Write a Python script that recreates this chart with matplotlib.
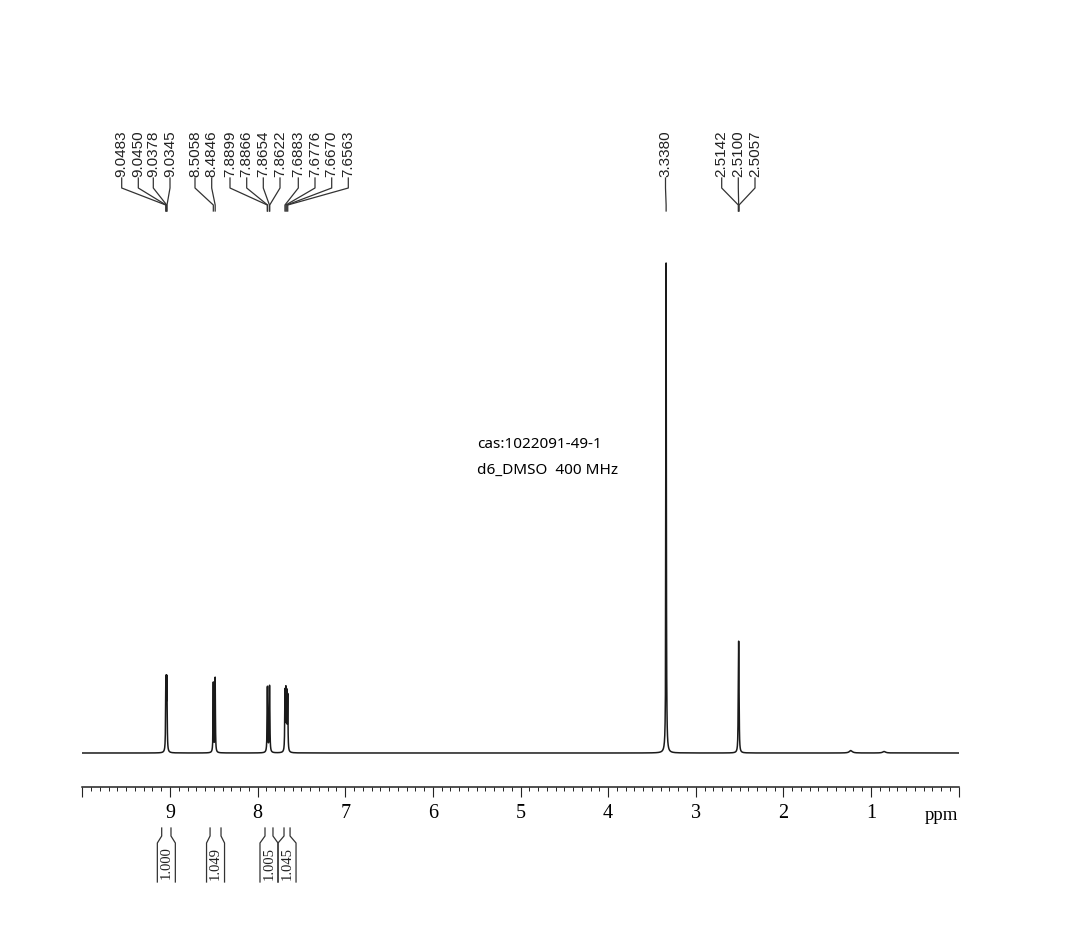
import numpy as np
import matplotlib
matplotlib.use("Agg")
import matplotlib.pyplot as plt
from matplotlib.ticker import MultipleLocator, FixedLocator
from matplotlib.transforms import blended_transform_factory

# peak list (ppm, relative height, half width)
peak_ppm = [9.0483, 9.0450, 9.0378, 9.0345,
            8.5058, 8.4846,
            7.8899, 7.8866, 7.8654, 7.8622,
            7.6883, 7.6776, 7.6670, 7.6563,
            3.3380,
            2.5142, 2.5100, 2.5057,
            1.23, 0.85]
peak_height = [0.093, 0.093, 0.093, 0.093,
               0.142, 0.152,
               0.087, 0.087, 0.087, 0.087,
               0.120, 0.118, 0.112, 0.110,
               1.000,
               0.080, 0.175, 0.080,
               0.005, 0.003]
peak_hw = [0.003] * 18 + [0.02, 0.02]

# labels shown at the top
label_groups = [
    (["9.0483", "9.0450", "9.0378", "9.0345"], [9.0483, 9.0450, 9.0378, 9.0345]),
    (["8.5058", "8.4846"], [8.5058, 8.4846]),
    (["7.8899", "7.8866", "7.8654", "7.8622"], [7.8899, 7.8866, 7.8654, 7.8622]),
    (["7.6883", "7.6776", "7.6670", "7.6563"], [7.6883, 7.6776, 7.6670, 7.6563]),
    (["3.3380"], [3.3380]),
    (["2.5142", "2.5100", "2.5057"], [2.5142, 2.5100, 2.5057]),
]
label_px = [[121.7, 138.3, 153.3, 170.0],
            [195.0, 211.7],
            [230.0, 246.7, 263.3, 280.0],
            [298.3, 315.0, 331.7, 348.3],
            [665.5],
            [721.7, 738.3, 755.0]]

# integrals
integ_ranges = [(9.095, 8.989), (8.543, 8.418), (7.916, 7.825), (7.699, 7.630)]
integ_values = ["1.000", "1.049", "1.005", "1.045"]

W, H = 1081, 940
fig = plt.figure(figsize=(W / 100, H / 100), dpi=100)
fig.patch.set_facecolor("white")

# axis geometry in pixels
x_left, x_right = 82.4, 958.6
y_axis, y_base, y_top = 787, 753, 100
scale = 490.0
ax = fig.add_axes([x_left / W, 1 - y_axis / H, (x_right - x_left) / W, (y_axis - y_top) / H])
ax.set_xlim(10, 0)
ax.set_ylim(-(y_axis - y_base) / scale, (y_base - y_top) / scale)

x = np.linspace(0, 10, 100001)
y = np.zeros_like(x)
for p, h, w in zip(peak_ppm, peak_height, peak_hw):
    y += h / (1 + ((x - p) / w) ** 2)
ax.plot(x, y, color="#1a1a1a", lw=1.1)

for s in ["top", "left", "right"]:
    ax.spines[s].set_visible(False)
ax.spines["bottom"].set_linewidth(1.1)
ax.spines["bottom"].set_color("#222222")
ax.set_yticks([])
ax.xaxis.set_major_locator(FixedLocator(range(0, 11)))
ax.xaxis.set_minor_locator(MultipleLocator(0.1))
ax.set_xticklabels(["", "1", "2", "3", "4", "5", "6", "7", "8", "9", ""])
ax.tick_params(axis="x", which="major", direction="out", length=7.5, width=0.8,
               color="#222222", pad=5, labelsize=14.5)
ax.tick_params(axis="x", which="minor", direction="out", length=3, width=0.7, color="#222222")
for t in ax.get_xticklabels():
    t.set_fontfamily("Liberation Serif")

fig.text(941 / W, 1 - 816 / H, "ppm", ha="center", va="center",
         fontsize=13.5, family="Liberation Serif")

tr = blended_transform_factory(ax.transData, fig.transFigure)


def fy(p):
    return 1 - p / H


def px2ppm(p):
    return 10 - (p - x_left) / ((x_right - x_left) / 10)


# peak labels with leader lines
for (texts, ppms), pxs in zip(label_groups, label_px):
    for t, pp, lp in zip(texts, ppms, pxs):
        lx = px2ppm(lp)
        ax.text(lx, fy(177), t, transform=tr, rotation=90, ha="center", va="bottom",
                fontsize=11, family="Liberation Sans", color="#222222")
        ax.plot([lx, lx, pp, pp], [fy(178), fy(188), fy(205), fy(211)],
                transform=tr, color="#333333", lw=0.9, clip_on=False)

# integrals
half_box = 9.0 / ((x_right - x_left) / 10)
for (a, b), v in zip(integ_ranges, integ_values):
    c = (a + b) / 2
    ax.plot([a, a, c + half_box, c + half_box], [fy(828), fy(836), fy(843), fy(882)],
            transform=tr, color="#333333", lw=0.9, clip_on=False)
    ax.plot([b, b, c - half_box, c - half_box], [fy(828), fy(836), fy(843), fy(882)],
            transform=tr, color="#333333", lw=0.9, clip_on=False)
    ax.text(c, fy(863), v, transform=tr, rotation=90, ha="center", va="center",
            fontsize=10.5, family="Liberation Serif", color="#222222")

fig.text(477 / W, 1 - 445 / H, "cas:1022091-49-1", ha="left", va="center",
         fontsize=11, family="Noto Sans")
fig.text(477 / W, 1 - 470 / H, "d6_DMSO  400 MHz", ha="left", va="center",
         fontsize=11, family="Noto Sans")

fig.savefig("out.png", dpi=100, facecolor="white")
